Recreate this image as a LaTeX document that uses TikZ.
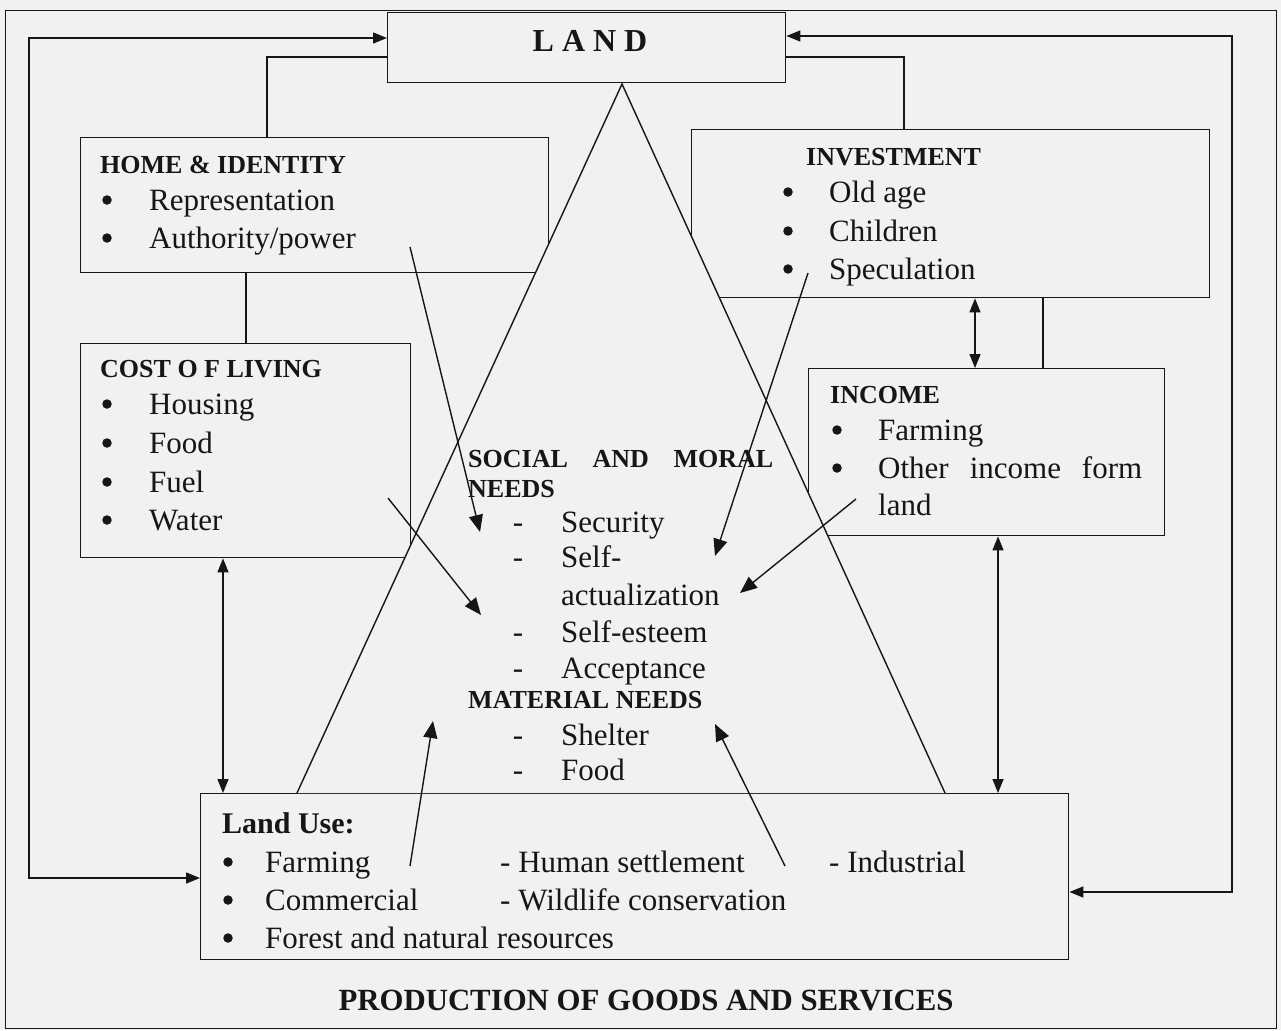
\documentclass[tikz,border=0pt]{standalone}
\usepackage{fontspec}
\setmainfont{Liberation Serif}
\usetikzlibrary{arrows.meta}
\definecolor{bg}{RGB}{241,241,241}
\definecolor{ink}{RGB}{22,22,22}
\newcommand\bodyf{\fontsize{31}{37}\selectfont}
\newcommand\headf{\fontsize{26}{30}\selectfont\bfseries}
\newcommand\usef{\fontsize{30}{34}\selectfont\bfseries}
\newcommand\prodf{\fontsize{30.8}{36}\selectfont\bfseries}
\newcommand\landf{\fontsize{32}{36}\selectfont\bfseries}
\tikzset{
  box/.style={draw=ink, line width=1.4pt, fill=bg, inner sep=0pt, anchor=north west},
  ln/.style={draw=ink, line width=1.4pt},
  arr/.style={ln, -{Triangle[length=17pt,width=14pt]}},
  darr/.style={ln, {Triangle[length=14pt,width=11pt]}-{Triangle[length=14pt,width=11pt]}},
  txt/.style={anchor=base west, inner sep=0pt, font=\bodyf, text=ink},
  hd/.style={anchor=base west, inner sep=0pt, font=\headf, text=ink},
  hyph/.style={anchor=base, inner sep=0pt, font=\bodyf, text=ink},
  dot/.style={circle, fill=ink, inner sep=0pt, minimum size=9.5pt},
}
\begin{document}
\begin{tikzpicture}[x=1pt,y=-1pt]
\useasboundingbox (0,0) rectangle (1281,1030);
\fill[bg] (0,0) rectangle (1281,1030);
\node[draw=ink, line width=1.4pt, minimum width=1271pt, minimum height=1018pt, anchor=north west, inner sep=0pt] (frame) at (5,10) {};

% boxes
\node[box, minimum width=398pt, minimum height=70pt] (land) at (387,12) {};
\node[box, minimum width=468pt, minimum height=135pt] (home) at (80,137) {};
\node[box, minimum width=330pt, minimum height=214pt] (cost) at (80,343) {};
\node[box, minimum width=518pt, minimum height=168pt] (invest) at (691,129) {};
\node[box, minimum width=356pt, minimum height=167pt] (income) at (808,368) {};
\node[box, minimum width=868pt, minimum height=166pt] (landuse) at (200,793) {};

% central triangle (hides box corners)
\coordinate (apex) at (622,84);
\coordinate (tl) at (297,793);
\coordinate (tr) at (945,793);
\fill[bg] (apex) -- (landuse.north -| tl) -- (landuse.north -| tr) -- cycle;
\draw[ln] (landuse.north -| tl) -- (apex) -- (landuse.north -| tr);

% tree connectors
\coordinate (hl) at (267,57);
\draw[ln] (land.west |- hl) -| (home.north -| hl);
\coordinate (ir) at (904,57);
\draw[ln] (land.east |- ir) -| (invest.north -| ir);
\coordinate (hc) at (246,0);
\draw[ln] (home.south -| hc) -- (cost.north -| hc);
\coordinate (ii) at (1043,0);
\draw[ln] (invest.south -| ii) -- (income.north -| ii);

% double arrows
\coordinate (d1) at (975,0);
\draw[darr] (invest.south -| d1) -- (income.north -| d1);
\coordinate (d2) at (223,0);
\draw[darr] (cost.south -| d2) -- (landuse.north -| d2);
\coordinate (d3) at (998,0);
\draw[darr] (income.south -| d3) -- (landuse.north -| d3);

% outer loops
\coordinate (lt) at (29,38);
\coordinate (lb) at (29,878);
\draw[darr] (land.west |- lt) -- (lt) -- (lb) -- (landuse.west |- lb);
\coordinate (rt) at (1232,36);
\coordinate (rb) at (1232,892);
\draw[darr] (land.east |- rt) -- (rt) -- (rb) -- (landuse.east |- rb);

% arrows to needs
\coordinate (a1s) at (410,247);  \coordinate (a1e) at (480,532);
\coordinate (a2s) at (388,498);  \coordinate (a2e) at (481,615);
\coordinate (a3s) at (808,273);  \coordinate (a3e) at (715,556);
\coordinate (a4s) at (856,499);  \coordinate (a4e) at (740,593);
\coordinate (a5s) at (410,866);  \coordinate (a5e) at (433,721);
\coordinate (a6s) at (785,866);  \coordinate (a6e) at (715,724);
\draw[arr] (a1s) -- (a1e);
\draw[arr] (a2s) -- (a2e);
\draw[arr] (a3s) -- (a3e);
\draw[arr] (a4s) -- (a4e);
\draw[arr] (a5s) -- (a5e);
\draw[arr] (a6s) -- (a6e);

% LAND
\node[anchor=base, inner sep=0pt, font=\landf, text=ink] (landt) at (590,52) {L A N D};

% HOME & IDENTITY
\node[hd] (homeh) at (100,173) {HOME \& IDENTITY};
\node[dot] (homeb1) at (107,200) {};
\node[txt] (home1) at (149,210) {Representation};
\node[dot] (homeb2) at (107,238) {};
\node[txt] (home2) at (149,248) {Authority/power};

% COST OF LIVING
\node[hd] (costh) at (100,377) {COST O F LIVING};
\foreach \t/\yy [count=\i] in {Housing/414, Food/453, Fuel/492, Water/530}{
  \node[dot] (costb\i) at (107,\yy-10) {};
  \node[txt] (cost\i) at (149,\yy) {\t};
}

% INVESTMENT
\node[hd] (investh) at (806,165) {INVESTMENT};
\foreach \t/\yy [count=\i] in {Old age/202, Children/241, Speculation/279}{
  \node[dot] (investb\i) at (788,\yy-10) {};
  \node[txt] (invest\i) at (829,\yy) {\t};
}

% INCOME
\node[hd] (incomeh) at (830,403) {INCOME};
\node[dot] (incomeb1) at (837,430) {};
\node[txt] (income1) at (878,440) {Farming};
\node[dot] (incomeb2) at (837,468) {};
\node[txt] (income2) at (878,478) {\makebox[264pt][s]{Other\hfill income\hfill form}};
\node[txt] (income3) at (878,515) {land};

% SOCIAL AND MORAL NEEDS
\node[hd] (socialh) at (468,467) {\makebox[305pt][s]{SOCIAL\hfill AND\hfill MORAL}};
\node[hd] (socialh2) at (468,497) {NEEDS};
\foreach \t/\yy [count=\i] in {Security/532, Self-/567, Self-esteem/642, Acceptance/678}{
  \node[hyph] (sdash\i) at (518,\yy) {-};
  \node[txt] (social\i) at (561,\yy) {\t};
}
\node[txt] (social5) at (561,605) {actualization};

% MATERIAL NEEDS
\node[hd] (math) at (468,708) {MATERIAL NEEDS};
\foreach \t/\yy [count=\i] in {Shelter/745, Food/780}{
  \node[hyph] (mdash\i) at (518,\yy) {-};
  \node[txt] (mat\i) at (561,\yy) {\t};
}

% LAND USE
\node[anchor=base west, inner sep=0pt, font=\usef, text=ink] (useh) at (222,833) {Land Use:};
\foreach \t/\yy [count=\i] in {Farming/872, Commercial/910, Forest and natural resources/948}{
  \node[dot] (useb\i) at (228,\yy-10) {};
  \node[txt] (use\i) at (265,\yy) {\t};
}
\node[txt] (use4) at (500,872) {- Human settlement};
\node[txt] (use5) at (500,910) {- Wildlife conservation};
\node[txt] (use6) at (829,872) {- Industrial};

% caption
\node[anchor=base, inner sep=0pt, font=\prodf, text=ink] (prod) at (646,1010) {PRODUCTION OF GOODS AND SERVICES};
\end{tikzpicture}
\end{document}
